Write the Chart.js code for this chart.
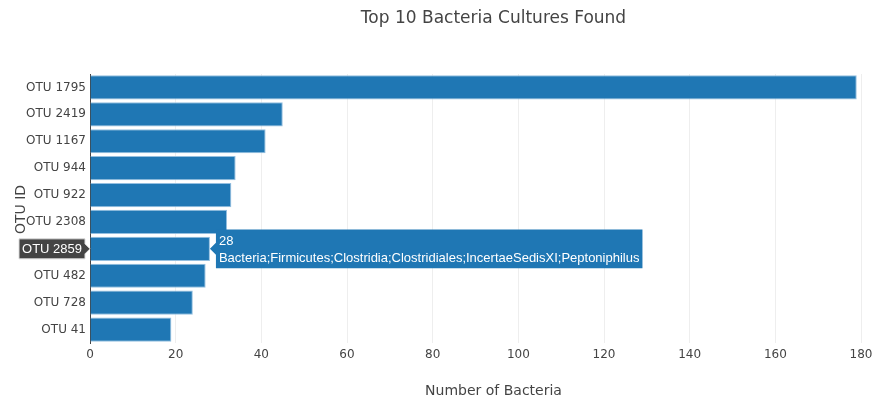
<!DOCTYPE html>
<html>
<head>
<meta charset="utf-8">
<script src="https://cdn.jsdelivr.net/npm/chart.js@4"></script>
<style>
  html, body { margin: 0; padding: 0; background: #fff; overflow: hidden; }
  #wrap { width: 888px; height: 407px; overflow: hidden; position: relative; }
  #c { position: absolute; left: 0; top: 0; }
</style>
</head>
<body>
<div id="wrap"><canvas id="c" width="988" height="407"></canvas></div>
<script>
const categories = ['OTU 1795', 'OTU 2419', 'OTU 1167', 'OTU 944', 'OTU 922', 'OTU 2308', 'OTU 2859', 'OTU 482', 'OTU 728', 'OTU 41'];
const counts = [179, 45, 41, 34, 33, 32, 28, 27, 24, 19];
const hoverIndex = 6;
const hoverTaxon = 'Bacteria;Firmicutes;Clostridia;Clostridiales;IncertaeSedisXI;Peptoniphilus';
const xTickStep = 20;
const xMax = 188.4;
const chartTitle = 'Top 10 Bacteria Cultures Found';
const xTitle = 'Number of Bacteria';
const yTitle = 'OTU ID';

const FONT = '"DejaVu Sans", Verdana, sans-serif';
const HOVER_FONT = '"Liberation Sans", Arial, sans-serif';

const overlay = {
  id: 'overlay',
  afterDraw(chart) {
    const ctx = chart.ctx;
    const area = chart.chartArea;
    ctx.save();
    ctx.fillStyle = '#444';
    ctx.textAlign = 'center';
    ctx.textBaseline = 'middle';
    ctx.font = '17px ' + FONT;
    ctx.fillText(chartTitle, (area.left + area.right) / 2, 19);
    ctx.font = '14px ' + FONT;
    ctx.fillText(xTitle, (area.left + area.right) / 2, 391);
    ctx.save();
    ctx.translate(21, (area.top + area.bottom) / 2 + 1);
    ctx.rotate(-Math.PI / 2);
    ctx.fillText(yTitle, 0, 0);
    ctx.restore();

    // axis spike label for hovered category
    const y = chart.scales.y.getPixelForValue(hoverIndex);
    const tipX = area.left;
    const boxR = tipX - 5, boxL = 19, h = 20;
    ctx.beginPath();
    ctx.moveTo(tipX, y);
    ctx.lineTo(boxR, y - 5);
    ctx.lineTo(boxR, y - h / 2);
    ctx.lineTo(boxL, y - h / 2);
    ctx.lineTo(boxL, y + h / 2);
    ctx.lineTo(boxR, y + h / 2);
    ctx.lineTo(boxR, y + 5);
    ctx.closePath();
    ctx.fillStyle = '#444';
    ctx.fill();
    ctx.strokeStyle = '#ddd';
    ctx.lineWidth = 1;
    ctx.stroke();
    ctx.fillStyle = '#fff';
    ctx.font = '13px ' + HOVER_FONT;
    ctx.textAlign = 'center';
    ctx.fillText(categories[hoverIndex], (boxL + boxR) / 2, y + 0.5);
    ctx.restore();
  }
};

const chart = new Chart(document.getElementById('c'), {
  type: 'bar',
  data: {
    labels: categories,
    datasets: [{
      data: counts,
      backgroundColor: '#1f77b4',
      borderColor: '#94bfe0',
      borderWidth: 1,
      borderSkipped: 'start',
      categoryPercentage: 1,
      barPercentage: 0.9
    }]
  },
  options: {
    indexAxis: 'y',
    responsive: false,
    animation: false,
    events: [],
    layout: { padding: { top: 74, right: 91, left: 0, bottom: 0 } },
    plugins: {
      legend: { display: false },
      title: { display: false },
      tooltip: {
        enabled: true,
        backgroundColor: '#1f77b4',
        bodyColor: '#fff',
        bodyFont: { family: HOVER_FONT, size: 13 },
        bodySpacing: 1.5,
        displayColors: false,
        cornerRadius: 0,
        caretSize: 6,
        caretPadding: 0,
        padding: { top: 4, bottom: 2, left: 3, right: 3 },
        xAlign: 'left',
        yAlign: 'center',
        callbacks: {
          title: () => '',
          label: (item) => [String(item.raw), hoverTaxon]
        }
      }
    },
    scales: {
      x: {
        min: 0,
        max: xMax,
        afterFit(scale) { scale.height = 64; },
        grid: { color: '#eee', drawTicks: false },
        border: { display: false },
        ticks: {
          stepSize: xTickStep,
          includeBounds: false,
          color: '#444',
          font: { family: FONT, size: 12 },
          padding: 5
        }
      },
      y: {
        afterFit(scale) { scale.width = 90; },
        grid: { display: false, drawTicks: false },
        border: { display: true, color: '#444', width: 1 },
        ticks: {
          color: (c) => c.index === hoverIndex ? 'rgba(0,0,0,0)' : '#444',
          font: { family: FONT, size: 12 },
          padding: 4
        }
      }
    }
  },
  plugins: [overlay]
});

chart.tooltip.setActiveElements([{ datasetIndex: 0, index: hoverIndex }], { x: 0, y: 0 });
chart.update();
</script>
</body>
</html>
